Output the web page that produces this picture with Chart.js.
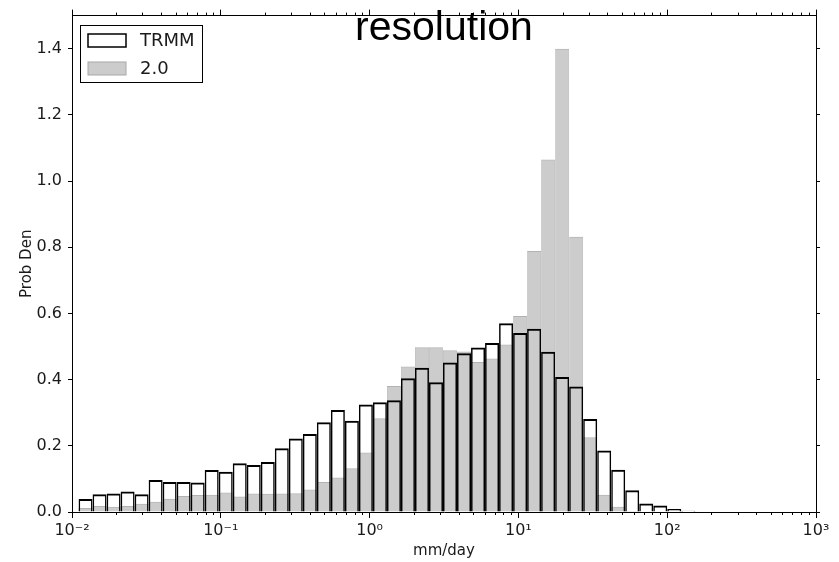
<!DOCTYPE html>
<html><head><meta charset="utf-8">
<script src="https://cdn.jsdelivr.net/npm/chart.js@4.4.1/dist/chart.umd.min.js"></script>
<style>html,body{margin:0;padding:0;background:#fff}#c{display:block}</style>
</head><body>
<canvas id="c" width="839" height="562"></canvas>
<script>
// ---- data ----
const binEdges = [0.01107, 0.01374, 0.01708, 0.02121, 0.02635, 0.03273, 0.04066, 0.05050, 0.06273, 0.07793,
  0.09683, 0.1203, 0.1494, 0.1856, 0.2306, 0.2864, 0.3558, 0.4420, 0.5491, 0.6822,
  0.8474, 1.052, 1.308, 1.624, 2.018, 2.506, 3.113, 3.867, 4.804, 5.968,
  7.413, 9.209, 11.44, 14.21, 17.65, 21.93, 27.24, 33.84, 42.03, 52.21,
  64.86, 80.57, 100.1, 124.3, 154.5];
const trmmValues = [0.039, 0.054, 0.056, 0.062, 0.054, 0.097, 0.091, 0.091, 0.089, 0.127,
  0.122, 0.147, 0.142, 0.151, 0.193, 0.222, 0.236, 0.271, 0.308, 0.276,
  0.325, 0.332, 0.338, 0.404, 0.436, 0.392, 0.452, 0.480, 0.497, 0.511,
  0.570, 0.541, 0.554, 0.484, 0.408, 0.379, 0.281, 0.186, 0.128, 0.066,
  0.026, 0.020, 0.009, 0.004];
const res20Values = [0.012, 0.018, 0.016, 0.018, 0.025, 0.031, 0.040, 0.048, 0.051, 0.052,
  0.059, 0.047, 0.056, 0.055, 0.056, 0.057, 0.068, 0.091, 0.104, 0.132,
  0.180, 0.283, 0.381, 0.440, 0.498, 0.498, 0.489, 0.485, 0.453, 0.464,
  0.506, 0.592, 0.789, 1.065, 1.400, 0.832, 0.226, 0.052, 0.016, 0.003,
  0, 0, 0, 0];
const seriesNames = ['TRMM', '2.0'];
const xMajorTicks = [0.01, 0.1, 1, 10, 100, 1000];
const xTickLabels = ['10\u207B\u00B2', '10\u207B\u00B9', '10\u2070', '10\u00B9', '10\u00B2', '10\u00B3'];
const xMinorTicks = [0.02, 0.03, 0.04, 0.05, 0.06, 0.07, 0.08, 0.09,
  0.2, 0.3, 0.4, 0.5, 0.6, 0.7, 0.8, 0.9,
  2, 3, 4, 5, 6, 7, 8, 9,
  20, 30, 40, 50, 60, 70, 80, 90,
  200, 300, 400, 500, 600, 700, 800, 900];
const yTicks = [0, 0.2, 0.4, 0.6, 0.8, 1.0, 1.2, 1.4];
const titleText = 'resolution';
const xTitle = 'mm/day';
const yTitle = 'Prob Den';

// ---- build ----
const binCenters = binEdges.slice(0, -1).map((e, i) => Math.sqrt(e * binEdges[i + 1]));
const toPoints = vals => vals.map((v, i) => ({x: binCenters[i], y: v}));
const setTicks = list => scale => { scale.ticks = list.map(v => ({value: v})); };

const TXT = '#1a1a1a';
const SANS = '"DejaVu Sans", sans-serif';
const TRMM_FILL = 'rgba(255,255,255,0)', TRMM_EDGE = '#000';
const R20_FILL = 'rgba(0,0,0,0.2)', R20_EDGE = 'rgba(0,0,0,0.3)';

const logX = (extra) => Object.assign({
  type: 'logarithmic', min: 0.01, max: 1000, offset: false,
  grid: {display: true, drawOnChartArea: false, drawTicks: true, offset: false, tickColor: '#000', tickLength: 3},
  ticks: {display: false, autoSkip: false},
  border: {display: false}
}, extra);

const boxLegend = {
  id: 'boxLegend',
  afterDatasetsDraw(chart) {
    const {ctx, chartArea} = chart;
    const x0 = Math.round(chartArea.left + 8) + 0.5, y0 = Math.round(chartArea.top + 9) + 0.5;
    ctx.save();
    ctx.fillStyle = '#fff';
    ctx.fillRect(x0, y0, 122, 57);
    ctx.strokeStyle = '#000';
    ctx.lineWidth = 1;
    ctx.strokeRect(x0, y0, 122, 57);
    const fills = ['#fff', '#cccccc'], edges = ['#000', '#a8a8a8'];
    chart.data.datasets.forEach((ds, i) => {
      const py = y0 + 8.5 + i * 28;
      ctx.fillStyle = fills[i];
      ctx.fillRect(x0 + 7.5, py, 38, 13);
      ctx.strokeStyle = edges[i];
      ctx.lineWidth = i === 0 ? 1.5 : 1;
      ctx.strokeRect(x0 + 7.5, py, 38, 13);
      ctx.fillStyle = TXT;
      ctx.font = '18px ' + SANS;
      ctx.textBaseline = 'middle';
      ctx.textAlign = 'left';
      ctx.fillText(ds.label, x0 + 59.5, py + 7);
    });
    ctx.restore();
  }
};

new Chart(document.getElementById('c').getContext('2d'), {
  type: 'bar',
  data: {
    datasets: [
      {label: seriesNames[0], data: toPoints(trmmValues), xAxisID: 'x', yAxisID: 'y',
       backgroundColor: TRMM_FILL, borderColor: TRMM_EDGE,
       borderWidth: {top: 2, left: 1.5, right: 1.5, bottom: 0},
       grouped: false, order: 1, categoryPercentage: 1, barPercentage: 1, inflateAmount: 0},
      {label: seriesNames[1], data: toPoints(res20Values), xAxisID: 'x', yAxisID: 'y',
       backgroundColor: R20_FILL, borderColor: R20_EDGE,
       borderWidth: {top: 1, left: 0.5, right: 0.5, bottom: 0},
       grouped: false, order: 0, categoryPercentage: 1, barPercentage: 1, inflateAmount: 0}
    ]
  },
  options: {
    responsive: false, animation: false, devicePixelRatio: 1,
    layout: {padding: 0},
    plugins: {
      legend: {display: false},
      tooltip: {enabled: false},
      title: {display: true, text: titleText, fullSize: false, color: '#000',
        font: {family: '"Liberation Sans", Arial, sans-serif', size: 41, weight: 'normal', lineHeight: 1},
        padding: {top: 5.5, bottom: -46.5}}
    },
    scales: {
      x: logX({position: 'bottom', weight: 0,
        afterBuildTicks: setTicks(xMajorTicks),
        afterFit: s => { s.height = 50; },
        border: {display: true, color: '#000', width: 1},
        grid: {display: true, drawOnChartArea: false, drawTicks: true, offset: false, tickColor: '#000', tickLength: 6},
        ticks: {display: true, autoSkip: false, maxRotation: 0, padding: 3, color: TXT,
          font: {family: SANS, size: 16},
          callback: v => { const i = xMajorTicks.indexOf(v); return i >= 0 ? xTickLabels[i] : ''; }},
        title: {display: true, text: xTitle, color: TXT, font: {family: SANS, size: 15}, padding: {top: 0, bottom: 2}}
      }),
      xm: logX({position: 'bottom', weight: -1,
        afterBuildTicks: setTicks(xMinorTicks),
        afterFit: s => { s.height = 0; }}),
      xt: logX({position: 'top', weight: 1,
        afterBuildTicks: setTicks(xMajorTicks),
        afterFit: s => { s.height = 13; },
        border: {display: true, color: '#000', width: 1},
        grid: {display: true, drawOnChartArea: false, drawTicks: true, offset: false, tickColor: '#000', tickLength: 6}}),
      xtm: logX({position: 'top', weight: 0,
        afterBuildTicks: setTicks(xMinorTicks),
        afterFit: s => { s.height = 0; }}),
      y: {type: 'linear', position: 'left', min: 0, max: 1.5,
        afterBuildTicks: setTicks(yTicks),
        afterFit: s => { s.width = 72; },
        border: {display: true, color: '#000', width: 1},
        grid: {display: true, drawOnChartArea: false, drawTicks: true, tickColor: '#000', tickLength: 4},
        ticks: {padding: 6, color: TXT, font: {family: SANS, size: 16}, callback: v => v.toFixed(1)},
        title: {display: true, text: yTitle, color: TXT, font: {family: SANS, size: 15}, padding: {top: 18, bottom: 0}}
      },
      y2: {type: 'linear', position: 'right', min: 0, max: 1.5,
        afterBuildTicks: setTicks(yTicks),
        afterFit: s => { s.width = 23; },
        border: {display: true, color: '#000', width: 1},
        grid: {display: true, drawOnChartArea: false, drawTicks: true, tickColor: '#000', tickLength: 4},
        ticks: {display: false}
      }
    }
  },
  plugins: [boxLegend]
});
</script>
</body></html>
